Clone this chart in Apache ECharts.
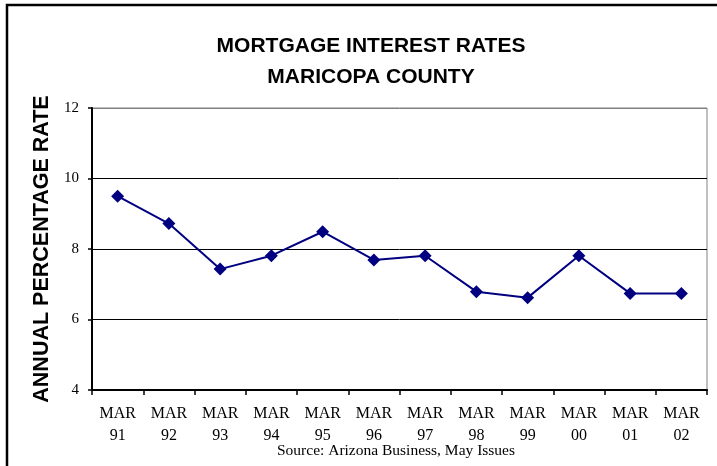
<!DOCTYPE html>
<html>
<head>
<meta charset="utf-8">
<script src="https://cdn.jsdelivr.net/npm/echarts@6/dist/echarts.min.js"></script>
<style>
html,body{margin:0;padding:0;background:#fff;}
#chart{width:717px;height:466px;}
</style>
</head>
<body>
<div id="chart"></div>
<script>
var categories = ['MAR\n91','MAR\n92','MAR\n93','MAR\n94','MAR\n95','MAR\n96','MAR\n97','MAR\n98','MAR\n99','MAR\n00','MAR\n01','MAR\n02'];
var rates = [9.5, 8.72, 7.43, 7.81, 8.49, 7.69, 7.81, 6.79, 6.62, 7.81, 6.74, 6.74];
var titleLines = ['MORTGAGE INTEREST RATES', 'MARICOPA COUNTY'];
var yAxisName = 'ANNUAL PERCENTAGE RATE';
var sourceText = 'Source: Arizona Business, May Issues';

var chart = echarts.init(document.getElementById('chart'), null, {renderer: 'canvas'});
chart.setOption({
  animation: false,
  backgroundColor: '#fff',
  title: {
    text: titleLines.join('\n'),
    left: 366,
    top: 26,
    textAlign: 'center',
    textStyle: {
      fontFamily: 'Liberation Sans, Arial, sans-serif',
      fontWeight: 'bold',
      fontSize: 21,
      lineHeight: 31,
      color: '#000'
    }
  },
  grid: {
    left: 92, right: 10, top: 108, bottom: 76,
    show: true,
    borderColor: '#808080',
    borderWidth: 1,
    backgroundColor: 'transparent'
  },
  xAxis: {
    type: 'category',
    data: categories,
    boundaryGap: true,
    axisLine: {lineStyle: {color: '#000', width: 2}},
    axisTick: {show: true, length: 5, alignWithLabel: false, lineStyle: {color: '#000', width: 1.5}},
    axisLabel: {
      margin: 13,
      interval: 0,
      fontFamily: 'Liberation Serif, Times New Roman, serif',
      fontSize: 16,
      lineHeight: 22,
      color: '#000'
    },
    splitLine: {show: false}
  },
  yAxis: {
    type: 'value',
    min: 4, max: 12, interval: 2,
    name: yAxisName,
    nameLocation: 'middle',
    nameGap: 32,
    nameRotate: 90,
    nameTextStyle: {
      fontFamily: 'Liberation Sans, Arial, sans-serif',
      fontWeight: 'bold',
      fontSize: 21.5,
      color: '#000'
    },
    axisLine: {show: true, lineStyle: {color: '#000', width: 2}},
    axisTick: {show: true, length: 4, lineStyle: {color: '#000', width: 1.5}},
    axisLabel: {
      margin: 13,
      fontFamily: 'Liberation Serif, Times New Roman, serif',
      fontSize: 15,
      color: '#000'
    },
    splitLine: {show: true, lineStyle: {color: ['#000', '#000', '#000', '#000', '#808080'], width: 1}}
  },
  series: [{
    type: 'line',
    data: rates,
    symbol: 'diamond',
    symbolSize: 13,
    itemStyle: {color: '#000080'},
    lineStyle: {color: '#000080', width: 2},
    z: 5
  }],
  graphic: [
    {
      type: 'rect',
      shape: {x: 7, y: 5, width: 800, height: 600},
      style: {fill: 'none', stroke: '#000', lineWidth: 2.5},
      silent: true
    },
    {
      type: 'text',
      x: 396,
      y: 451,
      style: {
        text: sourceText,
        textAlign: 'center',
        textVerticalAlign: 'middle',
        font: '15.5px "Liberation Serif", "Times New Roman", serif',
        fill: '#000'
      }
    }
  ]
});
</script>
</body>
</html>
